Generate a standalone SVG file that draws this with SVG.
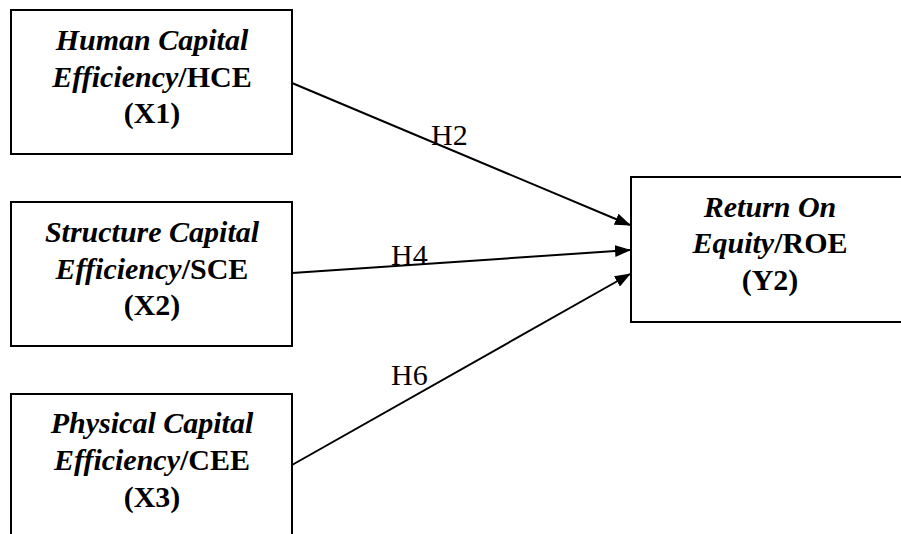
<svg xmlns="http://www.w3.org/2000/svg" width="901" height="534" viewBox="0 0 901 534">
<defs>
<style>
.box{fill:#fff;stroke:#000;stroke-width:2}
.t{font-family:'Liberation Serif',serif;font-size:30px;font-weight:bold;text-anchor:middle;fill:#000}
.i{font-style:italic}
.conn{stroke:#000;stroke-width:2;fill:none;marker-end:url(#ah)}
.lbl{font-family:'Liberation Serif',serif;font-size:30px;fill:#000}
</style>
<marker id="ah" markerWidth="16" markerHeight="12" refX="15" refY="6" orient="auto" markerUnits="userSpaceOnUse">
<path d="M0,0 L16,6 L0,12 z" fill="#000"/>
</marker>
</defs>
<rect width="901" height="534" fill="#fff"/>
<g id="hce" font-family="Liberation Serif">
<rect class="box" x="11" y="10" width="281" height="144"/>
<text class="t i" x="152" y="50">Human Capital</text>
<text class="t" x="152" y="87"><tspan class="i">Efficiency</tspan>/HCE</text>
<text class="t" x="152" y="123">(X1)</text>
</g>
<g id="sce" font-family="Liberation Serif">
<rect class="box" x="11" y="202" width="281" height="144"/>
<text class="t i" x="152" y="242">Structure Capital</text>
<text class="t" x="152" y="279"><tspan class="i">Efficiency</tspan>/SCE</text>
<text class="t" x="152" y="315">(X2)</text>
</g>
<g id="cee" font-family="Liberation Serif">
<rect class="box" x="11" y="394" width="281" height="150"/>
<text class="t i" x="152" y="433">Physical Capital</text>
<text class="t" x="152" y="470"><tspan class="i">Efficiency</tspan>/CEE</text>
<text class="t" x="152" y="507">(X3)</text>
</g>
<g id="roe" font-family="Liberation Serif">
<rect class="box" x="631" y="177" width="280" height="145"/>
<text class="t i" x="770" y="217">Return On</text>
<text class="t" x="770" y="253"><tspan class="i">Equity</tspan>/ROE</text>
<text class="t" x="770" y="290">(Y2)</text>
</g>
<g id="connectors" font-family="Liberation Serif">
<line class="conn" x1="292" y1="83" x2="630" y2="225"/>
<line class="conn" x1="292" y1="273" x2="630" y2="250"/>
<line class="conn" x1="292" y1="465" x2="630" y2="274"/>
<text class="lbl" x="431" y="145">H2</text>
<text class="lbl" x="391" y="265">H4</text>
<text class="lbl" x="391" y="385">H6</text>
</g>
</svg>
